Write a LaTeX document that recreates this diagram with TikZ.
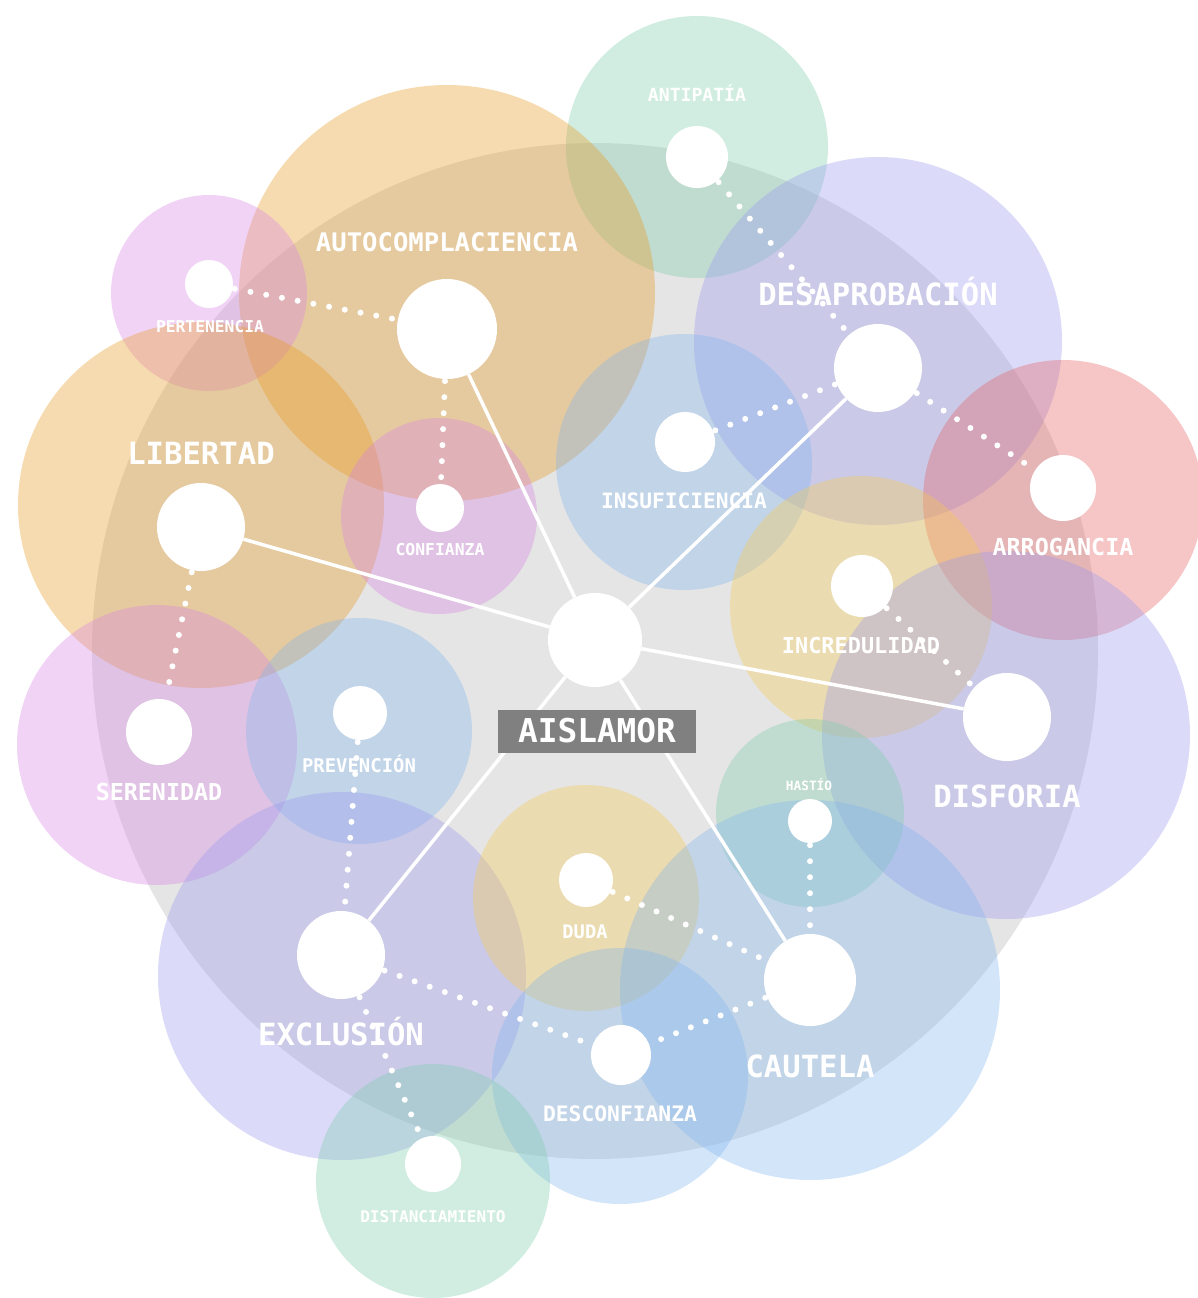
\documentclass[tikz,border=0pt]{standalone}
\usepackage{fontspec}
\setmonofont{DejaVu Sans Mono}

\definecolor{haze}{HTML}{E5E5E5}
\definecolor{mint}{HTML}{7CCCAC}
\definecolor{apricot}{HTML}{E8981D}
\definecolor{orchid}{HTML}{D784E3}
\definecolor{periwinkle}{HTML}{9898EE}
\definecolor{skyblue}{HTML}{81B5EE}
\definecolor{coral}{HTML}{E55C5C}
\definecolor{mustard}{HTML}{F9CB4E}
\definecolor{slate}{HTML}{808080}

\tikzset{
  blob/.style={fill opacity=0.35},
  hub/.style={circle, fill=white, inner sep=0pt, minimum size=#1},
  link/.style={white, line width=3.5pt},
  dotlink/.style={white, line width=6pt, line cap=round,
    dash pattern=on 0pt off 16pt, shorten <=2pt, shorten >=2pt},
  lbl/.style={text=white, inner sep=0pt, anchor=base,
    font=\ttfamily\bfseries\fontsize{#1}{#1}\selectfont},
}

\begin{document}
\begin{tikzpicture}[x=1pt, y=-1pt]
\useasboundingbox (0,0) rectangle (1197,1298);

% backdrop
\fill[haze] (595,651) ellipse [x radius=503pt, y radius=508pt];
\fill[mint,blob] (697,147) circle (131pt);
\fill[apricot,blob] (447,293) circle (208pt);
\fill[orchid,blob] (209,293) circle (98pt);
\fill[apricot,blob] (201,505) circle (183pt);
\fill[orchid,blob] (439,516) circle (98pt);
\fill[periwinkle,blob] (878,341) circle (184pt);
\fill[skyblue,blob] (684,462) circle (128pt);
\fill[coral,blob] (1063,500) circle (140pt);
\fill[mustard,blob] (861,607) circle (131pt);
\fill[periwinkle,blob] (1006,735) circle (184pt);
\fill[orchid,blob] (157,745) circle (140pt);
\fill[skyblue,blob] (359,731) circle (113pt);
\fill[periwinkle,blob] (342,976) circle (184pt);
\fill[mustard,blob] (586,898) circle (113pt);
\fill[mint,blob] (810,813) circle (94pt);
\fill[skyblue,blob] (810,990) circle (190pt);
\fill[skyblue,blob] (620,1076) circle (128pt);
\fill[mint,blob] (433,1181) circle (117pt);

% hubs
\node[hub=94pt] (core) at (595,640) {};
\node[hub=100pt] (aut) at (447,329) {};
\node[hub=88pt] (lib) at (201,527) {};
\node[hub=88pt] (desa) at (878,368) {};
\node[hub=88pt] (disf) at (1007,717) {};
\node[hub=92pt] (caut) at (810,980) {};
\node[hub=88pt] (excl) at (341,955) {};
\node[hub=62pt] (anti) at (697,157) {};
\node[hub=48pt] (pert) at (209,284) {};
\node[hub=48pt] (conf) at (440,508) {};
\node[hub=60pt] (insu) at (685,442) {};
\node[hub=66pt] (arro) at (1063,488) {};
\node[hub=62pt] (incr) at (862,586) {};
\node[hub=66pt] (sere) at (159,732) {};
\node[hub=54pt] (prev) at (360,713) {};
\node[hub=54pt] (duda) at (586,880) {};
\node[hub=44pt] (hast) at (810,821) {};
\node[hub=60pt] (desc) at (621,1055) {};
\node[hub=56pt] (dist) at (433,1164) {};

\draw[link] (core) -- (aut);
\draw[link] (core) -- (lib);
\draw[link] (core) -- (desa);
\draw[link] (core) -- (disf);
\draw[link] (core) -- (caut);
\draw[link] (core) -- (excl);

\draw[dotlink] (pert) -- (aut);
\draw[dotlink] (aut) -- (conf);
\draw[dotlink] (lib) -- (sere);
\draw[dotlink] (anti) -- (desa);
\draw[dotlink] (desa) -- (insu);
\draw[dotlink] (desa) -- (arro);
\draw[dotlink] (incr) -- (disf);
\draw[dotlink] (prev) -- (excl);
\draw[dotlink] (excl) -- (desc);
\draw[dotlink] (excl) -- (dist);
\draw[dotlink] (duda) -- (caut);
\draw[dotlink] (caut) -- (desc);
\draw[dotlink] (hast) -- (caut);

% labels
\node[lbl=25.6] (t-aut) at (447,251) {AUTOCOMPLACIENCIA};
\node[lbl=30.6] (t-lib) at (201,464) {LIBERTAD};
\node[lbl=30.6] (t-desa) at (878,305) {DESAPROBACIÓN};
\node[lbl=30.6] (t-disf) at (1007,807) {DISFORIA};
\node[lbl=30.6] (t-caut) at (810,1077) {CAUTELA};
\node[lbl=30.6] (t-excl) at (341,1045) {EXCLUSIÓN};
\node[lbl=18.1] (t-anti) at (697,101.5) {ANTIPATÍA};
\node[lbl=16.3] (t-pert) at (210,332) {PERTENENCIA};
\node[lbl=16.4] (t-conf) at (440,555) {CONFIANZA};
\node[lbl=21.2] (t-insu) at (684,508.5) {INSUFICIENCIA};
\node[lbl=23.4] (t-arro) at (1063,555.5) {ARROGANCIA};
\node[lbl=21.9] (t-incr) at (861,653) {INCREDULIDAD};
\node[lbl=23.3] (t-sere) at (159,800.5) {SERENIDAD};
\node[lbl=18.9] (t-prev) at (359,772) {PREVENCIÓN};
\node[lbl=18.7] (t-duda) at (585,938) {DUDA};
\node[lbl=12.8] (t-hast) at (809,790.5) {HASTÍO};
\node[lbl=21.3] (t-desc) at (620,1121) {DESCONFIANZA};
\node[lbl=16.1] (t-dist) at (433,1222) {DISTANCIAMIENTO};

\node[fill=slate, minimum width=198pt, minimum height=43pt, inner sep=0pt,
  text=white, font=\ttfamily\bfseries\fontsize{32.8}{32.8}\selectfont]
  (title) at (597,731) {AISLAMOR};
\end{tikzpicture}
\end{document}
